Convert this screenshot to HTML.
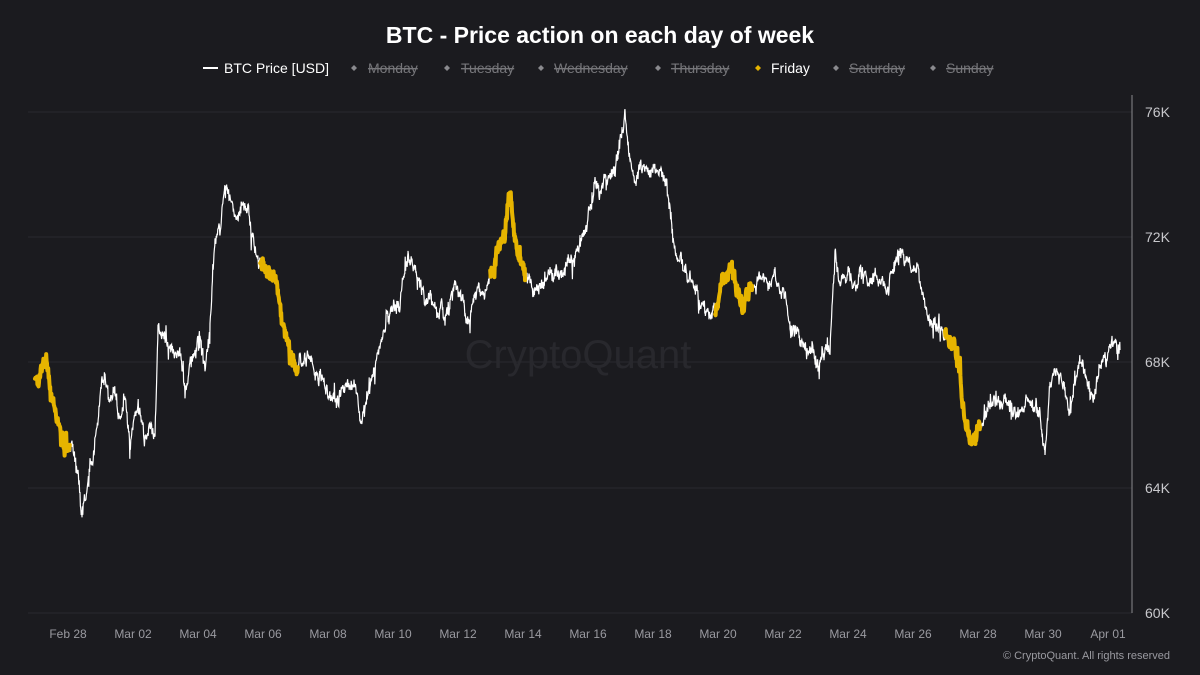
<!DOCTYPE html>
<html><head><meta charset="utf-8"><style>
html,body{margin:0;padding:0;background:#1b1b1f;}
body{width:1200px;height:675px;overflow:hidden;font-family:"Liberation Sans",sans-serif;position:relative;}
</style></head><body>
<svg id="s" width="1200" height="675" xmlns="http://www.w3.org/2000/svg" style="position:absolute;left:0;top:0">
<rect width="1200" height="675" fill="#1b1b1f"/>
<text x="600" y="43" text-anchor="middle" fill="#fff" font-size="23" font-weight="bold" font-family="Liberation Sans, sans-serif">BTC - Price action on each day of week</text>
<g font-size="14" font-family="Liberation Sans, sans-serif">
<line x1="203" y1="68" x2="218" y2="68" stroke="#fff" stroke-width="2"/>
<text x="224" y="73" fill="#fff">BTC Price [USD]</text>
<g fill="#8a8a8e"><path d="M354 65l3 3-3 3-3-3z"/><path d="M447 65l3 3-3 3-3-3z"/><path d="M541 65l3 3-3 3-3-3z"/><path d="M658 65l3 3-3 3-3-3z"/><path d="M836 65l3 3-3 3-3-3z"/><path d="M933 65l3 3-3 3-3-3z"/></g>
<path d="M758 65l3 3-3 3-3-3z" fill="#e6b400"/>
<g fill="#76767a" text-decoration="line-through">
<text x="368" y="73">Monday</text><text x="461" y="73">Tuesday</text><text x="554" y="73">Wednesday</text><text x="671" y="73">Thursday</text><text x="849" y="73">Saturday</text><text x="946" y="73">Sunday</text></g>
<text x="771" y="73" fill="#fff">Friday</text>
</g>
<g stroke="#2a2a2f" stroke-width="1">
<line x1="28" y1="112" x2="1132" y2="112"/><line x1="28" y1="237" x2="1132" y2="237"/><line x1="28" y1="362" x2="1132" y2="362"/><line x1="28" y1="488" x2="1132" y2="488"/><line x1="28" y1="613" x2="1132" y2="613"/>
</g>
<line x1="1132" y1="95" x2="1132" y2="613" stroke="#8a8a8e" stroke-width="1"/>
<g fill="#c8c8cc" font-size="14" font-family="Liberation Sans, sans-serif">
<text x="1145" y="117">76K</text><text x="1145" y="242">72K</text><text x="1145" y="367">68K</text><text x="1145" y="493">64K</text><text x="1145" y="618">60K</text>
</g>
<g fill="#9a9aa0" font-size="12" font-family="Liberation Sans, sans-serif" text-anchor="middle">
<text x="68" y="638">Feb 28</text><text x="133" y="638">Mar 02</text><text x="198" y="638">Mar 04</text><text x="263" y="638">Mar 06</text><text x="328" y="638">Mar 08</text><text x="393" y="638">Mar 10</text><text x="458" y="638">Mar 12</text><text x="523" y="638">Mar 14</text><text x="588" y="638">Mar 16</text><text x="653" y="638">Mar 18</text><text x="718" y="638">Mar 20</text><text x="783" y="638">Mar 22</text><text x="848" y="638">Mar 24</text><text x="913" y="638">Mar 26</text><text x="978" y="638">Mar 28</text><text x="1043" y="638">Mar 30</text><text x="1108" y="638">Apr 01</text>
</g>
<text x="578" y="368" text-anchor="middle" fill="#28282d" font-size="40" font-family="Liberation Sans, sans-serif">CryptoQuant</text>
<text x="1170" y="659" text-anchor="end" fill="#9a9aa0" font-size="11" font-family="Liberation Sans, sans-serif">© CryptoQuant. All rights reserved</text>
<g id="series"></g>
</svg>
<script>
var P=[[35,385],[45,360],[55,410],[65,450],[72,440],[78,470],[82,515],[90,480],[95,440],[100,400],[105,370],[110,400],[115,390],[120,420],[125,400],[130,440],[135,420],[140,410],[145,440],[150,420],[155,440],[158,320],[162,330],[170,340],[175,360],[180,350],[185,390],[190,360],[195,350],[200,340],[205,370],[210,330],[215,250],[220,230],[225,185],[230,200],[235,215],[240,210],[245,190],[250,220],[255,250],[262,265],[270,270],[278,290],[285,330],[290,355],[295,365],[300,355],[305,360],[310,365],[318,375],[325,380],[332,390],[340,395],[348,385],[355,395],[362,420],[368,390],[375,370],[380,345],[385,325],[392,310],[400,300],[408,260],[415,270],[420,295],[425,300],[430,300],[438,310],[445,315],[450,300],[455,280],[462,300],[468,320],[475,300],[480,285],[487,290],[492,270],[497,250],[505,230],[510,185],[515,240],[520,265],[525,280],[530,280],[540,285],[548,280],[555,275],[565,260],[572,255],[580,245],[585,230],[590,210],[595,180],[600,190],[605,185],[612,175],[618,160],[625,115],[630,160],[636,180],[640,165],[648,170],[655,160],[662,180],[667,185],[672,230],[676,255],[680,265],[688,270],[695,280],[700,300],[705,310],[710,315],[718,295],[722,285],[728,275],[732,270],[738,295],[742,305],[748,290],[752,280],[760,275],[768,282],[775,280],[785,290],[790,320],[797,335],[805,345],[812,350],[818,370],[825,345],[830,355],[835,260],[840,280],[848,270],[855,285],[862,270],[870,285],[878,275],[885,290],[890,275],[895,260],[900,245],[905,255],[910,270],[918,265],[925,300],[930,320],[935,325],[945,330],[950,340],[955,350],[960,370],[962,400],[965,420],[970,435],[975,430],[980,420],[985,415],[990,405],[1000,400],[1010,405],[1020,410],[1030,405],[1040,415],[1045,455],[1050,380],[1055,370],[1065,380],[1070,410],[1075,385],[1080,360],[1085,380],[1090,400],[1095,385],[1100,365],[1105,355],[1112,345],[1115,345],[1120,350]];
var seed=7;function r(){seed=(seed*16807)%2147483647;return seed/2147483647-0.5;}
var pts=[],walk=0;
for(var i=0;i<P.length-1;i++){var a=P[i],b=P[i+1];for(var x=a[0];x<b[0];x+=0.4){var t=(x-a[0])/(b[0]-a[0]);walk=walk*0.85+r()*9;var sp=(Math.abs(r())>0.47)?r()*28:0;pts.push([x,a[1]+(b[1]-a[1])*t+walk+r()*8+sp]);}}
pts.push(P[P.length-1]);
function path(f){var d="",on=false;pts.forEach(function(p){if(f(p[0])){d+=(on?"L":"M")+p[0].toFixed(1)+" "+p[1].toFixed(1);on=true;}else on=false;});return d;}
var fr=[[35,70],[260,298],[490,525],[715,752],[945,980]];
function isF(x){return fr.some(function(s){return x>=s[0]&&x<=s[1];});}
var ns="http://www.w3.org/2000/svg",g=document.getElementById("series");
var w=document.createElementNS(ns,"path");w.setAttribute("d",path(function(){return true;}));w.setAttribute("stroke","#fff");w.setAttribute("stroke-width","1.2");w.setAttribute("fill","none");g.appendChild(w);
var y=document.createElementNS(ns,"path");y.setAttribute("d",path(isF));y.setAttribute("stroke","#e6b400");y.setAttribute("stroke-width","4");y.setAttribute("stroke-linejoin","round");y.setAttribute("stroke-linecap","round");y.setAttribute("fill","none");g.appendChild(y);
</script>
</body></html>
